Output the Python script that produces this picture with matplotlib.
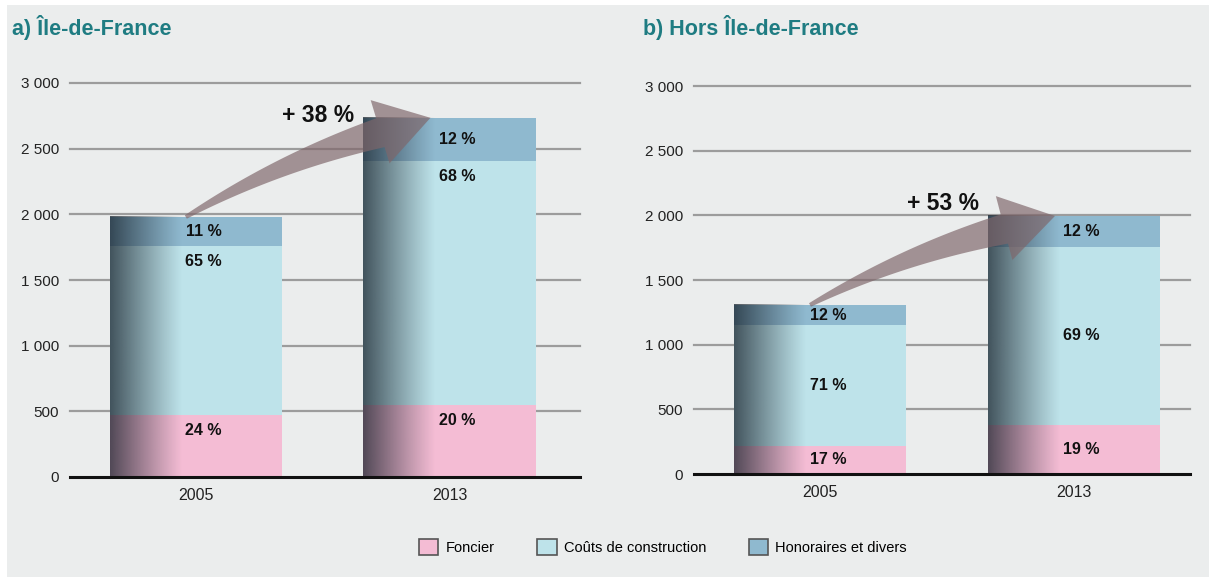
import numpy as np
import matplotlib.pyplot as plt
from matplotlib.patches import Rectangle, Polygon, Patch

plt.rcParams['font.family'] = ['Liberation Sans', 'DejaVu Sans']

# data (euros / m2)
years = ["2005", "2013"]
series = ["Foncier", "Coûts de construction", "Honoraires et divers"]
idf_foncier = [475, 547]
idf_construction = [1287, 1860]
idf_honoraires = [218, 328]
hors_foncier = [220, 380]
hors_construction = [930, 1375]
hors_honoraires = [157, 240]
yticks = [0, 500, 1000, 1500, 2000, 2500, 3000]
ytick_labels = ["0", "500", "1 000", "1 500", "2 000", "2 500", "3 000"]

colors = ["#f4bcd4", "#bee3ea", "#8fb9cf"]
bg = "#ebeded"
teal = "#1f7c82"
W = 0.68

fig = plt.figure(figsize=(12.14, 5.77), dpi=100, facecolor="white")
fig.patches.append(Rectangle((7 / 1214, 0), 1 - 12 / 1214, 1 - 5 / 577,
                             transform=fig.transFigure, facecolor=bg,
                             edgecolor="none", zorder=-10))


def curved_arrow(ax, start, end):
    # thin tail widening towards the head, drawn in pixel space
    p0 = ax.transData.transform(start)
    tip = ax.transData.transform(end)
    chord = tip - p0
    L = np.hypot(*chord)
    u = chord / L
    n = np.array([-u[1], u[0]])
    head_len = 52
    base = tip - u * head_len + n * 5
    ctrl = (p0 + base) / 2 + n * 0.05 * L
    t = np.linspace(0, 1, 40)[:, None]
    pts = (1 - t) ** 2 * p0 + 2 * (1 - t) * t * ctrl + t ** 2 * base
    d = 2 * (1 - t) * (ctrl - p0) + 2 * t * (base - ctrl)
    d = d / np.hypot(d[:, 0], d[:, 1])[:, None]
    nn = np.column_stack([-d[:, 1], d[:, 0]])
    w = (2 + 13 * t)
    left = pts + nn * w
    right = pts - nn * w
    hd = (tip - base) / np.hypot(*(tip - base))
    hn = np.array([-hd[1], hd[0]])
    head = [base + hn * 34, tip, base - hn * 32]
    poly = np.vstack([left, head, right[::-1]])
    poly = ax.transData.inverted().transform(poly)
    ax.add_patch(Polygon(poly, closed=True, facecolor="#7f666a", alpha=0.68,
                         edgecolor="none", zorder=4, clip_on=False))


def panel(rect, xmax, title, title_x, fon, con, hon, label_mode, pct_dy):
    ax = fig.add_axes(rect)
    ax.set_facecolor("none")
    x = np.arange(len(years))
    totals = np.array(fon) + np.array(con) + np.array(hon)
    for y in yticks[1:]:
        ax.axhline(y, color="#9c9c9c", lw=1.6, zorder=0, clip_on=False)
    ax.axhline(0, color="#111111", lw=2.2, zorder=5, clip_on=False)
    bottom = np.zeros(len(years))
    segs = [fon, con, hon]
    for k, vals in enumerate(segs):
        vals = np.array(vals)
        ax.bar(x, vals, W, bottom=bottom, color=colors[k], zorder=2)
        for i in range(len(years)):
            pct = round(vals[i] / totals[i] * 100)
            if label_mode == "top" and k < 2:
                yl = bottom[i] + vals[i] - 120
            else:
                yl = bottom[i] + vals[i] / 2
            ax.text(x[i] + 0.03, yl, f"{pct} %", ha="center", va="center",
                    fontsize=11.5, fontweight="bold", color="#111111", zorder=6)
        bottom = bottom + vals
    # dark shading on the left side of each bar
    grad = np.zeros((1, 64, 4))
    grad[..., 0:3] = np.array([18, 28, 38]) / 255
    grad[0, :, 3] = 0.72 * (1 - np.linspace(0, 1, 64)) ** 1.1
    for i in range(len(years)):
        ax.imshow(grad, extent=(x[i] - W / 2, x[i] - W / 2 + 0.42 * W, 0, totals[i]),
                  aspect="auto", interpolation="bilinear", zorder=3)
    ax.set_xlim(-0.497, xmax)
    ax.set_ylim(0, 3000)
    ax.set_yticks(yticks)
    ax.set_yticklabels(ytick_labels)
    ax.set_xticks(x)
    ax.set_xticklabels(years)
    ax.tick_params(length=0, labelsize=11, colors="#222222")
    ax.tick_params(axis="y", pad=8)
    ax.tick_params(axis="x", pad=8, labelsize=11.5)
    for s in ax.spines.values():
        s.set_visible(False)
    fig.text(title_x, 1 - 28 / 577, title, color=teal, fontsize=15.5,
             fontweight="bold", va="center", ha="left")
    curved_arrow(ax, (x[0] - 0.04, totals[0]), (x[1] - 0.075, totals[1]))
    growth = round((totals[1] / totals[0] - 1) * 100)
    ax.text(x[1] - W / 2 - 0.035, totals[1] + pct_dy, f"+ {growth} %", ha="right",
            va="center", fontsize=16.5, fontweight="bold", color="#111111", zorder=6)
    return ax


panel([70 / 1214, 1 - 477 / 577, 510 / 1214, 394 / 577], 1.515,
      "a) Île-de-France", 12 / 1214, idf_foncier, idf_construction, idf_honoraires,
      "top", 20)
panel([694 / 1214, 1 - 474 / 577, 496 / 1214, 388 / 577], 1.457,
      "b) Hors Île-de-France", 643 / 1214, hors_foncier, hors_construction,
      hors_honoraires, "mid", 95)

handles = [Patch(facecolor=c, edgecolor="#555555", lw=1.2) for c in colors]
fig.legend(handles, series, loc="center", bbox_to_anchor=(0.546, 1 - 547 / 577),
           ncol=3, frameon=False, fontsize=10.5, handlelength=1.35, handleheight=1.35,
           columnspacing=2.9, handletextpad=0.5)

fig.savefig("out.png", dpi=100, facecolor=fig.get_facecolor())
